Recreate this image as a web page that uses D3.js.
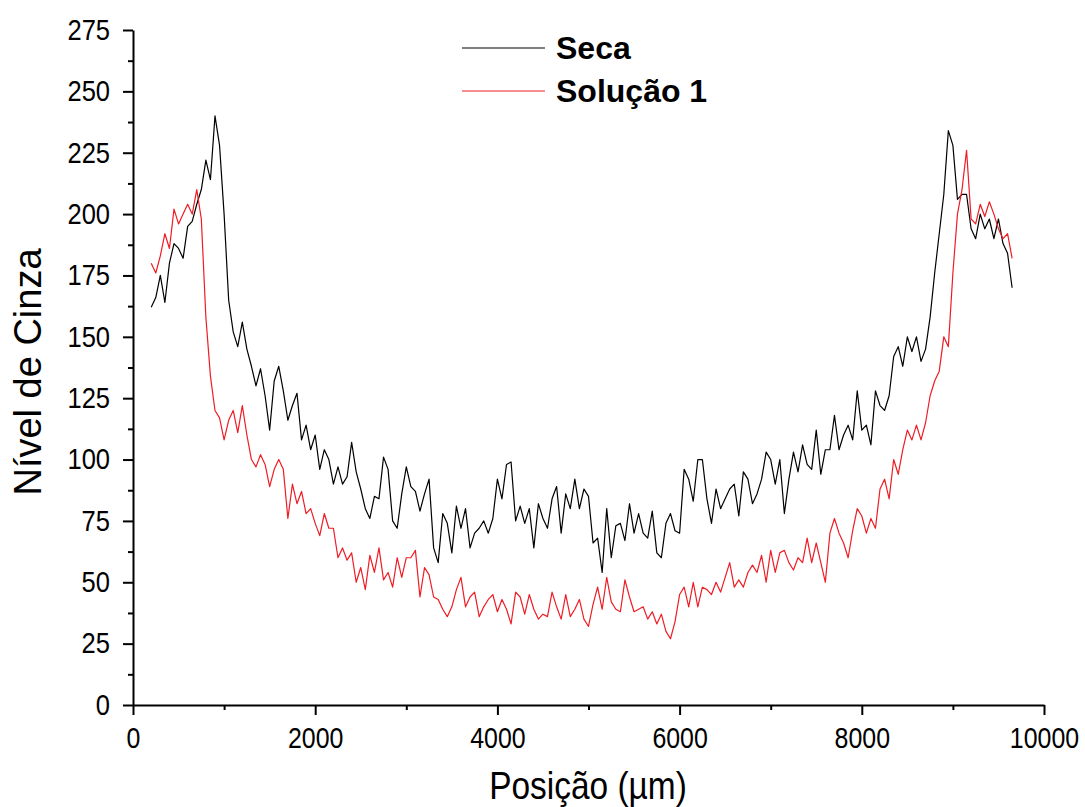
<!DOCTYPE html>
<html><head><meta charset="utf-8">
<script src="https://cdn.jsdelivr.net/npm/d3@7"></script>
<style>body{margin:0;background:#fff}svg text{font-family:"Liberation Sans",Arial,sans-serif}</style>
</head><body><svg id="c" width="1085" height="807"></svg>
<script>
// sampling grid of the profiles (µm)
const posStart = 200, posStep = 50;
const seca = [
162,166,175,164,180,188,186,182,195,197,
204,210,222,214,240,228,200,165,152,146,
156,145,138,130,137,126,112,132,138,128,
116,122,127,108,114,104,110,96,104,100,
90,97,90,93,107,95,88,80,76,85,
84,101,96,75,72,86,97,89,87,79,
86,92,64,58,78,74,62,81,72,80,
64,70,72,75,70,76,92,84,98,99,
75,81,74,80,64,82,76,72,84,89,
70,86,80,92,80,88,85,66,68,54,
80,60,73,74,67,82,70,78,70,68,
79,62,60,74,78,71,70,96,92,83,
100,100,84,74,88,80,84,88,90,77,
95,92,82,86,92,103,100,90,100,78,
92,103,95,106,98,96,112,94,104,104,
118,104,110,114,108,128,112,114,106,128,
122,120,126,142,146,138,150,144,150,140,
145,158,176,192,208,234,228,206,208,208,
194,190,200,194,198,190,198,188,184,170
];
const solucao1 = [
180,176,183,192,186,202,196,200,204,200,
210,198,158,134,120,117,108,116,120,111,
122,110,100,97,102,98,89,96,100,96,
76,90,82,87,78,80,74,69,78,72,
72,60,64,59,62,50,56,47,61,54,
64,51,54,48,60,52,60,60,63,44,
56,53,44,43,39,36,40,47,52,40,
44,46,36,40,43,45,38,43,39,33,
46,44,37,45,39,35,37,36,46,40,
35,45,36,39,43,35,32,41,48,39,
52,42,39,38,51,44,38,39,40,35,
38,33,37,30,27,34,45,48,40,50,
40,48,47,45,50,46,52,58,48,51,
48,54,57,54,61,50,63,54,62,63,
58,55,60,58,68,58,66,58,50,70,
76,70,66,60,71,80,77,70,76,72,
88,92,84,100,94,104,112,108,114,108,
115,126,132,136,150,146,176,200,210,226,
198,196,204,199,205,200,194,190,192,182
];
const seriesNames = ["Seca", "Solução 1"];
const seriesColors = ["#000000", "#ee1c24"];
const xTicks = [0, 2000, 4000, 6000, 8000, 10000];
const xMinor = [1000, 3000, 5000, 7000, 9000];
const yTicks = [0, 25, 50, 75, 100, 125, 150, 175, 200, 225, 250, 275];
const yMinor = [12.5, 37.5, 62.5, 87.5, 112.5, 137.5, 162.5, 187.5, 212.5, 237.5, 262.5];
const xTitle = "Posição (µm)";
const yTitle = "Nível de Cinza";

const svg = d3.select("#c");
const x = d3.scaleLinear().domain([0, 10000]).range([133, 1044]);
const y = d3.scaleLinear().domain([0, 275]).range([705, 30]);

const series = [seca, solucao1].map((vals, k) => ({
  name: seriesNames[k], color: seriesColors[k],
  pts: vals.map((v, i) => [posStart + i * posStep, v])
}));

const line = d3.line().x(d => x(d[0])).y(d => y(d[1]));
series.forEach(s => {
  svg.append("path").attr("d", line(s.pts)).attr("fill", "none")
    .attr("stroke", s.color).attr("stroke-width", 1.2).attr("stroke-linejoin", "round");
});

// axes
const yAx = svg.append("g").attr("transform", "translate(133,0)")
  .call(d3.axisLeft(y).tickValues(yTicks).tickSize(10).tickSizeOuter(0).tickPadding(13));
svg.append("g").attr("transform", "translate(133,0)")
  .call(d3.axisLeft(y).tickValues(yMinor).tickSize(5).tickFormat("").tickSizeOuter(0))
  .select(".domain").remove();
const xAx = svg.append("g").attr("transform", "translate(0,705)")
  .call(d3.axisBottom(x).tickValues(xTicks).tickFormat(d3.format("d")).tickSize(10).tickSizeOuter(0).tickPadding(12));
svg.append("g").attr("transform", "translate(0,705)")
  .call(d3.axisBottom(x).tickValues(xMinor).tickSize(5).tickFormat("").tickSizeOuter(0))
  .select(".domain").remove();
svg.selectAll(".domain, .tick line").attr("stroke", "#000").attr("stroke-width", 2);

// condensed tick labels
yAx.selectAll("text").each(function () {
  const t = d3.select(this), tx = +t.attr("x");
  t.attr("x", 0).attr("font-size", 29).attr("fill", "#000")
   .attr("transform", `translate(${tx},0) scale(0.88,1)`);
});
xAx.selectAll("text").each(function () {
  const t = d3.select(this), ty = +t.attr("y");
  t.attr("y", 0).attr("font-size", 29).attr("fill", "#000")
   .attr("transform", `translate(0,${ty}) scale(0.86,1)`);
});

svg.append("text").attr("transform", "translate(588,799) scale(0.88,1)").attr("text-anchor", "middle")
  .attr("font-size", 38).text(xTitle);
svg.append("text").attr("transform", "translate(41,372) rotate(-90)").attr("text-anchor", "middle")
  .attr("font-size", 38).text(yTitle);

// legend
series.forEach((s, k) => {
  const ly = 48 + k * 43;
  svg.append("line").attr("x1", 462).attr("x2", 545).attr("y1", ly).attr("y2", ly)
    .attr("stroke", s.color).attr("stroke-width", 1.2);
  svg.append("text").attr("x", 556).attr("y", ly + 11).attr("font-size", 32)
    .attr("font-weight", "bold").text(s.name);
});
</script></body></html>
